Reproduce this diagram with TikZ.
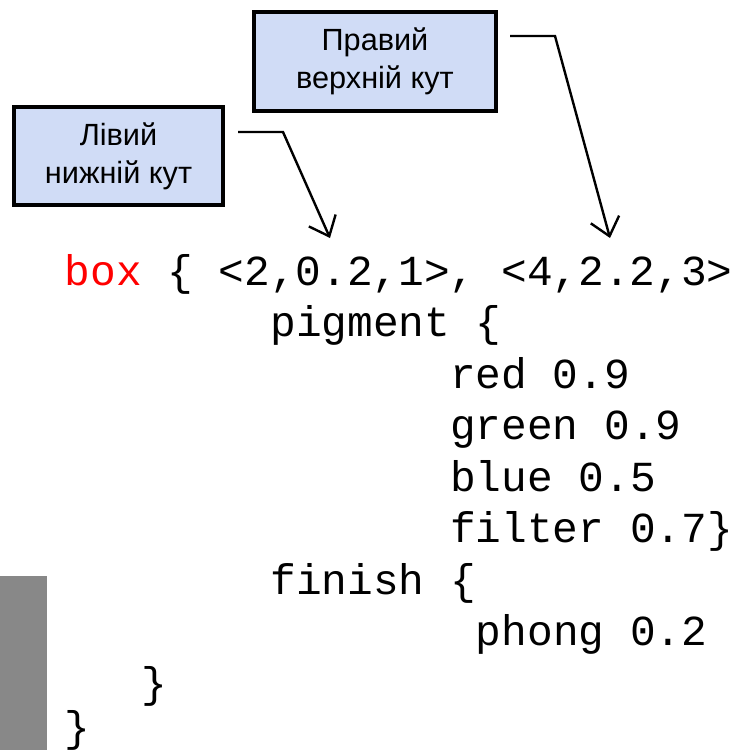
\documentclass[tikz,border=0pt]{standalone}
\usepackage{fontspec}
\setmainfont{Liberation Sans}
\newfontfamily\codefont{Liberation Mono}
\usetikzlibrary{arrows.meta}

\definecolor{notefill}{RGB}{208,220,246}
\definecolor{sidebar}{RGB}{136,136,136}

\begin{document}
\begin{tikzpicture}[
  x=0.75pt, y=-0.75pt,
  note/.style={draw=black, line width=2.6pt, fill=notefill, align=center,
    inner sep=0pt, font=\fontsize{23}{28.5}\selectfont},
  code/.style={anchor=base west, inner sep=0pt,
    font=\codefont\fontsize{32.1}{38}\selectfont},
  pointer/.style={line width=1.8pt, -{Straight Barb[length=13pt, width=22pt]}}
]
\useasboundingbox (0,0) rectangle (736,750);

% grey strip on the left
\fill[sidebar] (0,576) rectangle (47,750);

% callouts
\node[note, minimum width=181.5pt, minimum height=74.25pt] (upper)
  at (375,61.5) {Правий\\верхній кут};
\node[note, minimum width=156.75pt, minimum height=73.5pt] (lower)
  at (118.5,156) {Лівий\\нижній кут};

% the code, one node per line (25.7px per column)
\node[code] (l1)  at (64.5,285)          {\textcolor{red}{box} \{ <2,0.2,1>, <4,2.2,3>};
\node[code] (l2)  at (64.5+8*25.7,336.5) {pigment \{};
\node[code] (l3)  at (64.5+15*25.7,388)  {red 0.9};
\node[code] (l4)  at (64.5+15*25.7,439.5){green 0.9};
\node[code] (l5)  at (64.5+15*25.7,491)  {blue 0.5};
\node[code] (l6)  at (64.5+15*25.7,542.5){filter 0.7\}};
\node[code] (l7)  at (64.5+8*25.7,594)   {finish \{};
\node[code] (l8)  at (64.5+16*25.7,645.5){phong 0.2};
\node[code] (l9)  at (64.5+3*25.7,697)   {\}};
\node[code] (l10) at (64.5,741)          {\}};

% pointer ends
\coordinate (lowstart) at (238,132);
\coordinate (lowbend)  at (283,132);
\coordinate (lowtip)   at (330,238);
\coordinate (upstart)  at (510,36);
\coordinate (upbend)   at (555,36);
\coordinate (uptip)    at (610,238);

\draw[pointer] (lowstart) -- (lowbend) -- (lowtip);
\draw[pointer] (upstart) -- (upbend) -- (uptip);
\end{tikzpicture}
\end{document}
